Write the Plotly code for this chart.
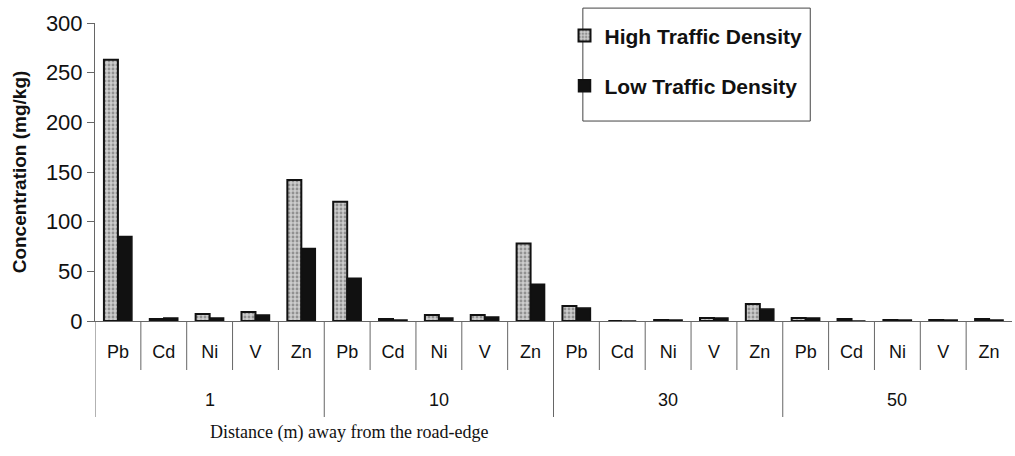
import plotly.graph_objects as go

distances = ["1", "10", "30", "50"]
elements = ["Pb", "Cd", "Ni", "V", "Zn"]
high_traffic = [263, 2, 7, 9, 142,
                120, 2, 6, 6, 78,
                15, 0, 1, 3, 17,
                3, 2, 1, 1, 2]
low_traffic = [85, 3, 3, 6, 73,
               43, 1, 3, 4, 37,
               13, 0, 1, 3, 12,
               3, 0, 1, 1, 1]

n_el = len(elements)
n = len(distances) * n_el
xpos = list(range(n))
inner = [e for _ in distances for e in elements]

PLOT_H = 298.0
def py(px_below_axis):
    return -px_below_axis / PLOT_H

fig = go.Figure()
fig.add_trace(go.Bar(
    x=xpos, y=high_traffic, name="High Traffic Density",
    legendgroup="h",
    marker=dict(color="#b8b8b8", line=dict(color="#111111", width=2),
                pattern=dict(shape=".", fgcolor="#555555", bgcolor="#cccccc", size=4, solidity=0.4)),
))
fig.add_trace(go.Bar(
    x=xpos, y=low_traffic, name="Low Traffic Density",
    legendgroup="l",
    marker=dict(color="#111111", line=dict(color="#111111", width=1.5)),
))

shapes = []
for i in range(n):
    b = i - 0.5
    depth = 96 if i % n_el == 0 else 49
    shapes.append(dict(type="line", xref="x", yref="paper", x0=b, x1=b,
                       y0=0, y1=py(depth), line=dict(color="#666666", width=1)))
# legend frame
shapes.append(dict(type="rect", xref="paper", yref="paper",
                   x0=0.532, x1=0.780, y0=0.671, y1=1.050,
                   line=dict(color="#444444", width=1), fillcolor="rgba(0,0,0,0)", layer="below"))

annotations = []
for g, d in enumerate(distances):
    annotations.append(dict(text=d, xref="x", yref="paper",
                            x=g * n_el + (n_el - 1) / 2, y=py(79),
                            showarrow=False, yanchor="middle", xanchor="center",
                            font=dict(size=18, family="Liberation Sans Narrow, Arial Narrow, Arial, sans-serif")))
annotations.append(dict(text="Distance (m) away from the road-edge", xref="paper", yref="paper",
                        x=0.277, y=py(111), showarrow=False, yanchor="middle", xanchor="center",
                        font=dict(size=18, family="Liberation Serif, DejaVu Serif, serif")))

fig.update_layout(
    width=1015, height=456,
    margin=dict(l=95, r=3, t=23, b=135, autoexpand=False),
    paper_bgcolor="white", plot_bgcolor="white",
    barmode="group", bargap=0.39, bargroupgap=0.0,
    font=dict(family="Arial, Liberation Sans, sans-serif", color="#111111"),
    showlegend=True,
    legend=dict(
        x=0.777, y=1.026, xanchor="right", yanchor="top",
        borderwidth=0, bgcolor="rgba(0,0,0,0)",
        font=dict(size=21, family="Arial, Liberation Sans, sans-serif", weight="bold"),
        tracegroupgap=20, traceorder="grouped",
        itemwidth=30,
    ),
    xaxis=dict(
        range=[-0.5, n - 0.5], automargin=False,
        tickmode="array", tickvals=xpos, ticktext=inner,
        showline=True, linecolor="#666666", linewidth=1,
        ticks="", ticklabelstandoff=14, showgrid=False, zeroline=False,
        tickfont=dict(size=18, family="Liberation Sans Narrow, Arial Narrow, Arial, sans-serif"),
    ),
    yaxis=dict(
        range=[0, 300], tickvals=[0, 50, 100, 150, 200, 250, 300], automargin=False,
        showgrid=False, zeroline=False,
        showline=True, linecolor="#666666", linewidth=1,
        ticks="outside", ticklen=7, tickcolor="#666666",
        tickfont=dict(size=22),
        title=dict(text="Concentration (mg/kg)",
                   font=dict(size=19, weight="bold"), standoff=14),
    ),
    shapes=shapes,
    annotations=annotations,
)

fig.write_html("out.html", post_script="document.body.style.margin='0';",
               config={"displayModeBar": False})
